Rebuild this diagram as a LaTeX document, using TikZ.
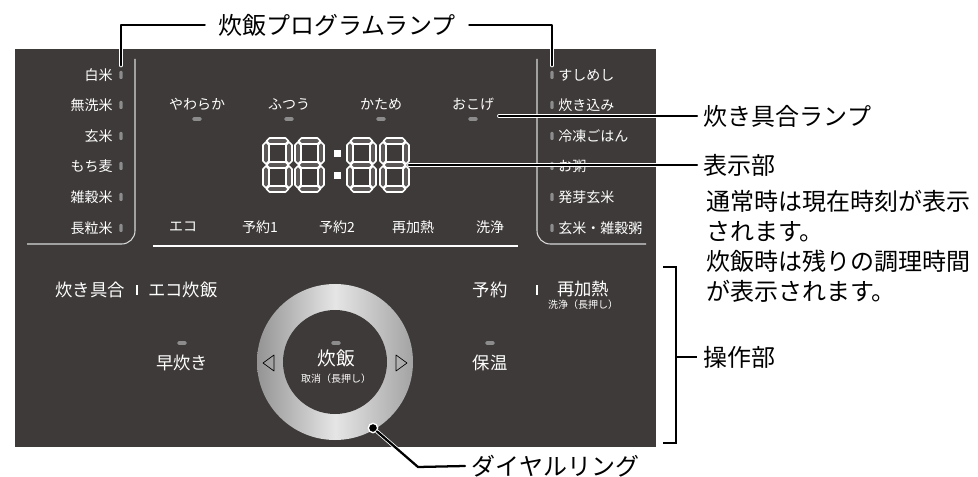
\documentclass[tikz,border=0pt]{standalone}
\usepackage{fontspec}
\setmainfont{Noto Sans CJK JP}
\usetikzlibrary{calc,positioning}

\definecolor{panelgray}{HTML}{3E3A39}
\definecolor{lampgray}{HTML}{8C8C8C}

% 7-segment pieces (local coords, y grows downward)
\newcommand{\hsegment}[2]{%
  \draw[segment] (#1,#2) ++(-11,0) -- ++(3,-3) -- ++(16,0) -- ++(3,3)
    -- ++(-3,3) -- ++(-16,0) -- cycle;}
\newcommand{\vsegment}[2]{%
  \draw[segment] (#1,#2) ++(0,-11) -- ++(3,3) -- ++(0,16) -- ++(-3,3)
    -- ++(-3,-3) -- ++(0,-16) -- cycle;}
\newcommand{\segdigit}[2]{%
  \begin{scope}[shift={(#1,#2)}]
    \foreach \yy in {3,27,51} {\hsegment{14.5}{\yy}}
    \foreach \xx/\yy in {3/15,26/15,3/39,26/39} {\vsegment{\xx}{\yy}}
  \end{scope}}

\begin{document}
\begin{tikzpicture}[
    x=0.75pt, y=-0.75pt,
    panel-lbl/.style   = {font=\fontsize{10.5}{12}\selectfont, text=white, inner sep=0},
    key-lbl/.style     = {font=\fontsize{13}{15}\selectfont, text=white, inner sep=0},
    tiny-lbl/.style    = {font=\fontsize{7.5}{9}\selectfont, text=white, inner sep=0},
    callout-lbl/.style = {font=\fontsize{18}{22}\selectfont, text=black, inner xsep=5pt, inner ysep=0},
    vlamp/.style       = {fill=lampgray, rounded corners=0.8pt, minimum width=2.4pt,
                          minimum height=6pt, inner sep=0},
    hlamp/.style       = {fill=lampgray, rounded corners=1pt, minimum width=7pt,
                          minimum height=2.8pt, inner sep=0},
    divider/.style     = {fill=white, minimum width=1.3pt, minimum height=8pt, inner sep=0},
    segment/.style     = {draw=white, line width=1.25pt, fill=panelgray!85!white, line join=round},
    frameline/.style   = {draw=white!85!black, line width=0.8pt},
    leader/.style      = {draw=white, double=black, double distance=1.7pt,
                          line width=0.6pt, line cap=round, line join=round},
    bracket/.style     = {draw=black, line width=1.5pt}
  ]

\useasboundingbox (0,0) rectangle (978,477);

% =========================================================
% Panel
% =========================================================
\fill[panelgray] (15,49) rectangle (656,447);

% left / right program frames
\draw[frameline, rounded corners=10pt] (135,59) -- (135,244) -- (27,244);
\draw[frameline, rounded corners=10pt] (537,59) -- (537,244) -- (646,244);
\draw[draw=white, line width=1.5pt] (153,246) -- (518,246);

% program lamps, left side
\foreach \txt/\yy/\id in {白米/75/hakumai, 無洗米/105/musenmai, 玄米/136/genmai,
    もち麦/166/mochimugi, 雑穀米/197/zakkokumai, 長粒米/228/choryumai} {
  \node[vlamp] (lamp-\id) at (121,\yy) {};
  \node[panel-lbl, anchor=east] (lbl-\id) at (113,\yy) {\txt};
}

% program lamps, right side
\foreach \txt/\yy/\id in {すしめし/75/sushi, 炊き込み/105/takikomi, 冷凍ごはん/136/reitou,
    お粥/166/kayu, 発芽玄米/197/hatsuga, 玄米・雑穀粥/228/kokugayu} {
  \node[vlamp] (lamp-\id) at (552,\yy) {};
  \node[panel-lbl, anchor=west] (lbl-\id) at (558,\yy) {\txt};
}

% texture lamps
\foreach \txt/\xx/\id in {やわらか/197/yawaraka, ふつう/289/futsuu,
    かため/381/katame, おこげ/473/okoge} {
  \node[panel-lbl] (lbl-\id) at (\xx,104) {\txt};
  \node[hlamp] (lamp-\id) at (\xx,119) {};
}

% bottom row of the display
\foreach \txt/\xx/\id in {エコ/183/eco, 予約1/260/yoyaku1, 予約2/337/yoyaku2,
    再加熱/413/saikanetsu, 洗浄/490/senjou} {
  \node[panel-lbl] (lbl-\id) at (\xx,227) {\txt};
}

% clock 88:88
\segdigit{263}{138}
\segdigit{295}{138}
\segdigit{347}{138}
\segdigit{380}{138}
\fill[white] (333.5,150) rectangle (340.5,157);
\fill[white] (333.5,172) rectangle (340.5,179);
\coordinate (clock-end) at (409,165);

% =========================================================
% Keys
% =========================================================
\node[key-lbl, anchor=east] (key-guai) at (125,290) {炊き具合};
\node[divider] (div-left) at (137,290) {};
\node[key-lbl, anchor=west] (key-ecosuihan) at (148,290) {エコ炊飯};

\node[key-lbl] (key-yoyaku) at (490,290) {予約};
\node[divider] (div-right) at (537,290) {};
\node[key-lbl] (key-saikanetsu) at (583,289) {再加熱};
\node[tiny-lbl] (key-senjou) at (583,305) {洗浄（長押し）};

\node[hlamp] (lamp-hayadaki) at (182,343) {};
\node[key-lbl] (key-hayadaki) at (182,363) {早炊き};
\node[hlamp] (lamp-hoon) at (490,343) {};
\node[key-lbl] (key-hoon) at (490,363) {保温};

% dial ring
\node[circle, inner sep=0, minimum size=117pt,
      left color=black!42, right color=black!36, middle color=black!10] (dial) at (335,362) {};
\node[circle, inner sep=0, minimum size=78pt, fill=panelgray] (dial-in) at (335,362) {};
\draw[black, line width=0.5pt, line join=round] (274,355) -- (263,363) -- (274,371) -- cycle;
\draw[black, line width=0.5pt, line join=round] (396,355) -- (407,363) -- (396,371) -- cycle;
\node[hlamp] (lamp-suihan) at (336,343) {};
\node[key-lbl, font=\fontsize{14}{16}\selectfont] (key-suihan) at (336,358) {炊飯};
\node[tiny-lbl] (key-torikeshi) at (336,379) {取消（長押し）};

% =========================================================
% Callouts
% =========================================================
\node[callout-lbl, inner xsep=10pt] (lbl-program) at (337,25) {炊飯プログラムランプ};
\draw[leader, shorten <=4pt] (lamp-hakumai.north) |- (lbl-program.west);
\draw[leader, shorten <=4pt] (lamp-sushi.north) |- (lbl-program.east);

\coordinate (okoge-tip) at (499,116);
\node[callout-lbl, anchor=west] (lbl-guai) at (697,116) {炊き具合ランプ};
\draw[leader] (okoge-tip) -- (lbl-guai.west);

\node[callout-lbl, anchor=west] (lbl-display) at (697,165) {表示部};
\draw[leader] (clock-end) -- (lbl-display.west);
\node[callout-lbl, anchor=north west, align=left, inner xsep=0,
      font=\fontsize{18}{22.5}\selectfont] (lbl-display-note) at (706,190)
  {通常時は現在時刻が表示\\されます。\\炊飯時は残りの調理時間\\が表示されます。};

\draw[bracket] (663,267) -| (676,443) -- (663,443);
\coordinate (bracket-mid) at (676,357);
\node[callout-lbl, anchor=west] (lbl-control) at (697,357) {操作部};
\draw[bracket] (bracket-mid) -- (lbl-control.west);

\node[circle, fill=black, draw=white, line width=1pt, minimum size=7pt, inner sep=0]
  (dial-pt) at (373,428) {};
\node[callout-lbl, anchor=west] (lbl-dial) at (465,466) {ダイヤルリング};
\draw[leader] (dial-pt) -- ++(45,39) -- (lbl-dial.west);

\end{tikzpicture}
\end{document}
